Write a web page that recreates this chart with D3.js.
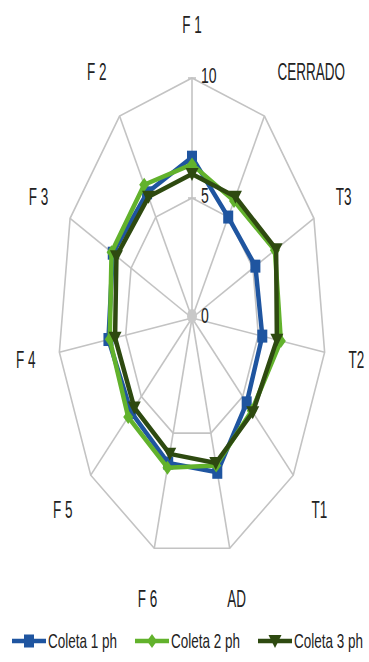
<!DOCTYPE html>
<html><head><meta charset="utf-8">
<script src="https://cdn.jsdelivr.net/npm/d3@7"></script>
<style>body{margin:0;background:#fff}svg{display:block}</style>
</head><body><svg id="c" width="369" height="662"></svg>
<script>
const categories = ["F 1","CERRADO","T3","T2","T1","AD","F 6","F 5","F 4","F 3","F 2"];
const coleta1 = [6.7,5.0,5.2,5.3,5.4,6.7,6.3,6.0,6.3,6.5,6.2];
const coleta2 = [6.4,5.8,6.8,6.7,5.9,6.4,6.5,6.3,6.2,6.6,6.6];
const coleta3 = [6.0,6.0,6.9,6.4,6.0,6.3,5.9,5.7,5.8,6.2,6.0];
const seriesNames = ["Coleta 1 ph","Coleta 2 ph","Coleta 3 ph"];
const seriesColors = ["#1f55a0","#62b22c","#2e4a10"];
const tickValues = [0,5,10];

const svg = d3.select("#c");
const cx = 192, cy = 318;
const rX = d3.scaleLinear().domain([0,10]).range([0,134]);
const rY = d3.scaleLinear().domain([0,10]).range([0,240]);
const ang = d3.scaleLinear().domain([0,categories.length]).range([0,2*Math.PI]);
function pt(i,v){const a=ang(i);return [cx+rX(v)*Math.sin(a), cy-rY(v)*Math.cos(a)];}

const grid = svg.append("g");
const gridColor = "#c3c3c3";
tickValues.filter(t=>t>0).forEach(t=>{
  grid.append("path")
    .attr("d", d3.line()(categories.map((c,i)=>pt(i,t))) + "Z")
    .attr("fill","none").attr("stroke",gridColor).attr("stroke-width",1.6);
});
categories.forEach((c,i)=>{
  const p=pt(i,10);
  grid.append("line").attr("x1",cx).attr("y1",cy).attr("x2",p[0]).attr("y2",p[1])
    .attr("stroke",gridColor).attr("stroke-width",1.6);
});
tickValues.forEach(t=>{
  const p=pt(0,t);
  grid.append("line").attr("x1",p[0]-4).attr("x2",p[0]+4).attr("y1",p[1]).attr("y2",p[1])
    .attr("stroke",gridColor).attr("stroke-width",1.6);
});
grid.append("ellipse").attr("cx",cx).attr("cy",cy-2).attr("rx",5).attr("ry",7).attr("fill","#c8c8c8");

tickValues.forEach(t=>{
  const p=pt(0,t);
  svg.append("text").attr("transform",`translate(${p[0]+9},${p[1]-3}) scale(1,1.6)`)
    .attr("dy","0.35em").attr("font-family","Liberation Sans, Arial, sans-serif")
    .attr("font-size",14).attr("fill","#222").text(t);
});

categories.forEach((c,i)=>{
  const a=ang(i), s=Math.sin(a), co=Math.cos(a);
  const x = cx + rX(10)*1.18*s;
  const y = cy - rY(10)*1.22*co;
  const anchor = Math.abs(s)<0.3 ? "middle" : (s>0?"start":"end");
  svg.append("text").attr("transform",`translate(${x},${y}) scale(1,1.75)`)
    .attr("dy","0.35em").attr("text-anchor",anchor)
    .attr("font-family","Liberation Sans, Arial, sans-serif").attr("font-size",13.5)
    .attr("fill","#222").text(c);
});

function marker(g, k, x, y, color){
  if(k===0){
    g.append("rect").attr("x",x-5).attr("y",y-6.5).attr("width",10).attr("height",13).attr("fill",color);
  } else if(k===1){
    g.append("path").attr("d",`M${x},${y-7}L${x+5},${y}L${x},${y+7}L${x-5},${y}Z`).attr("fill",color);
  } else {
    g.append("path").attr("d",`M${x-6.5},${y-6}L${x+6.5},${y-6}L${x},${y+7}Z`).attr("fill",color);
  }
}
const allSeries=[coleta1,coleta2,coleta3];
allSeries.forEach((vals,k)=>{
  const g=svg.append("g");
  const pts=vals.map((v,i)=>pt(i,v));
  g.append("path").attr("d",d3.line()(pts)+"Z").attr("fill","none")
    .attr("stroke",seriesColors[k]).attr("stroke-width",4.5).attr("stroke-linejoin","round");
  pts.forEach(p=>marker(g,k,p[0],p[1],seriesColors[k]));
});

const legX=[12,135,258];
seriesNames.forEach((n,k)=>{
  const g=svg.append("g");
  const y=641;
  g.append("line").attr("x1",legX[k]).attr("x2",legX[k]+34).attr("y1",y).attr("y2",y)
    .attr("stroke",seriesColors[k]).attr("stroke-width",4.5);
  marker(g,k,legX[k]+17,y,seriesColors[k]);
  g.append("text").attr("transform",`translate(${legX[k]+36},${y}) scale(0.93,1.4)`)
    .attr("dy","0.35em").attr("font-family","Liberation Sans, Arial, sans-serif")
    .attr("font-size",14.5).attr("fill","#222").text(n);
});
</script></body></html>
